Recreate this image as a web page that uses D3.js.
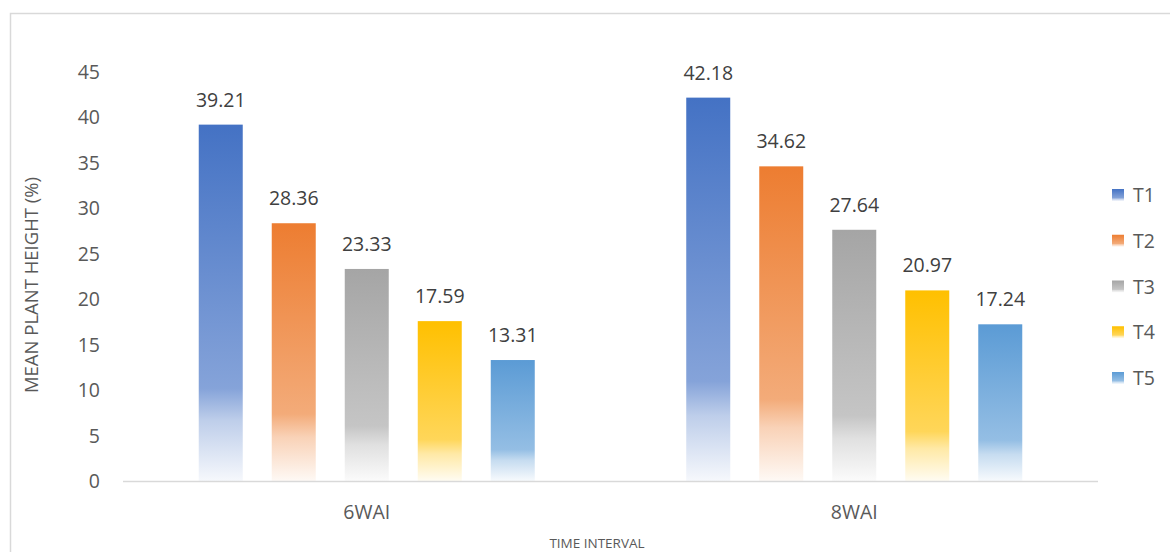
<!DOCTYPE html>
<html>
<head>
    <meta charset="utf-8">
    <title>Mean Plant Height</title>
    <script src="https://d3js.org/d3.v7.min.js"></script>
    <style>
        body { margin: 0; background: #fff; }
        #chart { width: 1170px; height: 552px; }
        text { font-family: "Open Sans", sans-serif; }
    </style>
</head>
<body>
    <div id="chart"></div>
    <script>
        // chart data
        const categories = ["6WAI", "8WAI"];
        const series = ["T1", "T2", "T3", "T4", "T5"];
        const values = {
            "6WAI": [39.21, 28.36, 23.33, 17.59, 13.31],
            "8WAI": [42.18, 34.62, 27.64, 20.97, 17.24]
        };
        const yTicks = [0, 5, 10, 15, 20, 25, 30, 35, 40, 45];
        const colors = ["#4472C4", "#ED7D31", "#A5A5A5", "#FFC000", "#5B9BD5"];

        const width = 1170, height = 552;
        const svg = d3.select("#chart").append("svg")
            .attr("width", width)
            .attr("height", height);

        // outer frame
        svg.append("rect")
            .attr("x", 10.5).attr("y", 13.5)
            .attr("width", 1180).attr("height", 600)
            .attr("fill", "none")
            .attr("stroke", "#d9d9d9")
            .attr("stroke-width", 1.5);

        // gradients, one per series (fade to white at bottom)
        const defs = svg.append("defs");
        colors.forEach(function(c, i) {
            const grad = defs.append("linearGradient")
                .attr("id", "grad" + i)
                .attr("x1", 0).attr("y1", 0)
                .attr("x2", 0).attr("y2", 1);
            const mix = t => d3.interpolateRgb(c, "#ffffff")(t);
            grad.append("stop").attr("offset", "0%").attr("stop-color", c);
            grad.append("stop").attr("offset", "74%").attr("stop-color", mix(0.35));
            grad.append("stop").attr("offset", "83%").attr("stop-color", mix(0.65));
            grad.append("stop").attr("offset", "100%").attr("stop-color", mix(0.95));
        });

        const x0 = d3.scaleBand()
            .domain(categories)
            .range([123, 1098]);

        const x1 = d3.scaleBand()
            .domain(series)
            .range([0, x0.bandwidth()])
            .paddingInner(29 / 73)
            .paddingOuter(1.0375);

        const y = d3.scaleLinear()
            .domain([0, 45])
            .range([481, 72]);

        // y tick labels
        svg.append("g")
            .selectAll("text")
            .data(yTicks)
            .join("text")
            .attr("x", 100)
            .attr("y", d => y(d))
            .attr("dy", "0.36em")
            .attr("text-anchor", "end")
            .attr("font-size", 19.5)
            .attr("fill", "#595959")
            .text(d => d);

        // bars
        const groups = svg.append("g")
            .selectAll("g")
            .data(categories)
            .join("g")
            .attr("transform", d => "translate(" + x0(d) + ",0)");

        groups.selectAll("rect")
            .data(c => values[c].map((v, i) => ({ s: series[i], v: v, i: i })))
            .join("rect")
            .attr("x", d => x1(d.s))
            .attr("y", d => y(d.v))
            .attr("width", x1.bandwidth())
            .attr("height", d => y(0) - y(d.v))
            .attr("fill", d => "url(#grad" + d.i + ")");

        // value labels
        groups.selectAll("text")
            .data(c => values[c].map((v, i) => ({ s: series[i], v: v })))
            .join("text")
            .attr("x", d => x1(d.s) + x1.bandwidth() / 2)
            .attr("y", d => y(d.v) - 18)
            .attr("text-anchor", "middle")
            .attr("font-size", 19.5)
            .attr("fill", "#404040")
            .text(d => d.v.toFixed(2));

        // x axis line
        svg.append("line")
            .attr("x1", 123).attr("x2", 1098)
            .attr("y1", y(0) + 0.5).attr("y2", y(0) + 0.5)
            .attr("stroke", "#d9d9d9")
            .attr("stroke-width", 1.5);

        // category labels
        svg.append("g")
            .selectAll("text")
            .data(categories)
            .join("text")
            .attr("x", d => x0(d) + x0.bandwidth() / 2)
            .attr("y", 519)
            .attr("text-anchor", "middle")
            .attr("font-size", 19.5)
            .attr("fill", "#595959")
            .text(d => d);

        // axis titles
        svg.append("text")
            .attr("x", 597)
            .attr("y", 548)
            .attr("text-anchor", "middle")
            .attr("font-size", 13.5)
            .attr("fill", "#595959")
            .text("TIME INTERVAL");

        svg.append("text")
            .attr("transform", "translate(38,285) rotate(-90)")
            .attr("text-anchor", "middle")
            .attr("font-size", 18.5)
            .attr("fill", "#595959")
            .text("MEAN PLANT HEIGHT (%)");

        // legend
        const legend = svg.append("g")
            .selectAll("g")
            .data(series)
            .join("g")
            .attr("transform", (d, i) => "translate(1112," + (195 + i * 45.75) + ")");

        legend.append("rect")
            .attr("x", 0).attr("y", -6)
            .attr("width", 12).attr("height", 12)
            .attr("fill", (d, i) => "url(#grad" + i + ")");

        legend.append("text")
            .attr("x", 21)
            .attr("y", 0)
            .attr("dy", "0.36em")
            .attr("font-size", 19.5)
            .attr("fill", "#595959")
            .text(d => d);
    </script>
</body>
</html>
